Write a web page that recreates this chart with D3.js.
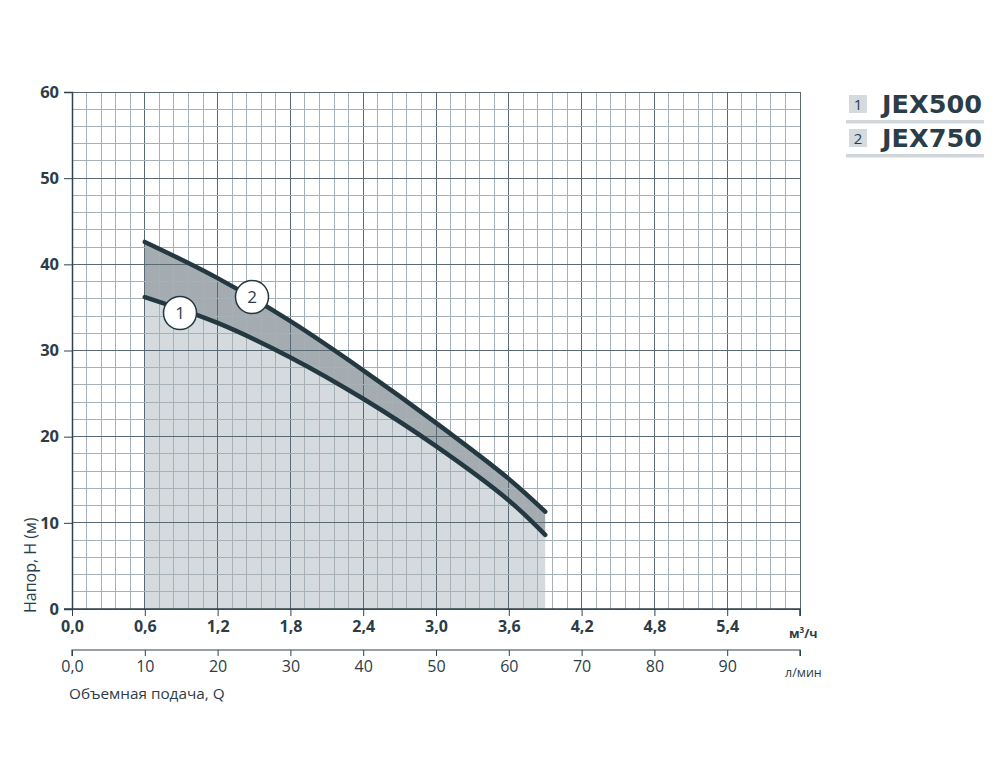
<!DOCTYPE html>
<html><head><meta charset="utf-8">
<script src="https://cdn.jsdelivr.net/npm/d3@7"></script>
<style>body{margin:0;background:#fff;} svg{display:block;font-family:"Open Sans","Noto Sans",sans-serif;}</style>
</head><body>
<svg id="c" width="1000" height="782"></svg>
<script>
// flow in l/min
const flowLpm = [10, 20, 30, 40, 50, 60, 65];
const headJEX500 = [36.2, 33.2, 29.2, 24.4, 18.9, 12.6, 8.6];
const headJEX750 = [42.6, 38.4, 33.4, 27.7, 21.6, 15.1, 11.3];
const seriesNames = ["JEX500", "JEX750"];
const m3hTicks = [0, 0.6, 1.2, 1.8, 2.4, 3.0, 3.6, 4.2, 4.8, 5.4];
const lpmTicks = [0, 10, 20, 30, 40, 50, 60, 70, 80, 90];
const headTicks = [0, 10, 20, 30, 40, 50, 60];

(function () {
const svg = d3.select("#c");
const ink = "#2b3d47";
const pL = 72, pR = 800, pT = 92, pB = 609;
const x = d3.scaleLinear().domain([0, 100]).range([pL, pR]);      // l/min
const xm = d3.scaleLinear().domain([0, 6]).range([pL, pR]);       // m3/h
const y = d3.scaleLinear().domain([0, 60]).range([pB, pT]);

const d1 = flowLpm.map((q, i) => ({q, h: headJEX500[i]}));
const d2 = flowLpm.map((q, i) => ({q, h: headJEX750[i]}));
const curve = d3.curveCatmullRom.alpha(0.5);

// fills
svg.append("path").attr("fill", "#d4dadd")
  .attr("d", d3.area().x(d => x(d.q)).y0(y(0)).y1(d => y(d.h)).curve(curve)(d1));
const band = flowLpm.map((q, i) => ({q, lo: headJEX500[i], hi: headJEX750[i]}));
svg.append("path").attr("fill", "#a4abb1")
  .attr("d", d3.area().x(d => x(d.q)).y0(d => y(d.lo)).y1(d => y(d.hi)).curve(curve)(band));

// grid
const g = svg.append("g");
d3.range(0, 100.001, 2).forEach(v => {
  const major = Math.abs(v % 10) < 1e-6;
  g.append("line").attr("x1", x(v)).attr("x2", x(v)).attr("y1", pT).attr("y2", pB)
    .attr("stroke", major ? "#5a6a74" : "#a6b0b7").attr("stroke-width", 1).attr("shape-rendering", "crispEdges");
});
d3.range(0, 60.001, 2).forEach(v => {
  const major = Math.abs(v % 10) < 1e-6;
  g.append("line").attr("x1", pL).attr("x2", pR).attr("y1", y(v)).attr("y2", y(v))
    .attr("stroke", major ? "#5a6a74" : "#a6b0b7").attr("stroke-width", 1).attr("shape-rendering", "crispEdges");
});

// curves
const line = d3.line().x(d => x(d.q)).y(d => y(d.h)).curve(curve);
[d1, d2].forEach(d => {
  svg.append("path").attr("d", line(d)).attr("fill", "none").attr("stroke", "#233840")
    .attr("stroke-width", 4.5).attr("stroke-linecap", "round");
});

// curve labels
[[180, 313, "1"], [252, 297, "2"]].forEach(([cx, cy, t]) => {
  svg.append("circle").attr("cx", cx).attr("cy", cy).attr("r", 16.5)
    .attr("fill", "#fff").attr("stroke", "#233840").attr("stroke-width", 1.5);
  svg.append("text").attr("x", cx).attr("y", cy + 6).attr("text-anchor", "middle")
    .attr("font-size", 17).attr("fill", ink).text(t);
});

// left axis
const ya = svg.append("g").attr("transform", `translate(${pL},0)`)
  .call(d3.axisLeft(y).tickValues(headTicks).tickSize(8).tickPadding(5).tickFormat(d3.format("d")));
ya.select(".domain").attr("stroke", "#2f434c").attr("stroke-width", 1.5);
ya.selectAll(".tick line").attr("stroke", "#2f434c");
ya.selectAll("text").attr("font-size", 16.5).attr("font-weight", "bold").attr("fill", ink)
  .attr("font-family", "'Open Sans',sans-serif");

// bottom axis m3/h
const fmt = d => d3.format(".1f")(d).replace(".", ",");
const xa = svg.append("g").attr("transform", `translate(0,${pB})`)
  .call(d3.axisBottom(xm).tickValues(m3hTicks.concat([6])).tickSize(7).tickPadding(5)
    .tickFormat(d => d === 6 ? "" : fmt(d)));
xa.select(".domain").attr("stroke", "#2f434c").attr("stroke-width", 1.5).attr("d", `M${pL - 8},0H${pR}V7`);
xa.selectAll(".tick line").attr("stroke", "#2f434c");
xa.selectAll("text").attr("font-size", 16).attr("font-weight", "bold").attr("fill", ink)
  .attr("font-family", "'Open Sans',sans-serif");

// second axis l/min
const xb = svg.append("g").attr("transform", `translate(0,650)`)
  .call(d3.axisBottom(x).tickValues(lpmTicks.concat([100])).tickSize(6).tickPadding(5)
    .tickFormat(d => d === 100 ? "" : (d === 0 ? "0,0" : d)));
xb.select(".domain").attr("stroke", "#2f434c").attr("stroke-width", 1.2).attr("d", `M${pL},6V0H${pR}V6`);
xb.selectAll(".tick line").attr("stroke", "#2f434c");
xb.selectAll("text").attr("font-size", 16).attr("fill", ink).attr("font-family", "'Open Sans',sans-serif");

// unit labels
const u = svg.append("text").attr("x", 789).attr("y", 638).attr("font-size", 12.5).attr("font-weight", "bold").attr("fill", ink);
u.append("tspan").text("м");
u.append("tspan").attr("font-size", 8).attr("dy", -5).text("3");
u.append("tspan").attr("dy", 5).text("/ч");
svg.append("text").attr("x", 785).attr("y", 677).attr("font-size", 12.5).attr("fill", ink).text("л/мин");
svg.append("text").attr("x", 69).attr("y", 699).attr("font-size", 15.3).attr("fill", ink).text("Объемная подача, Q");
svg.append("text").attr("transform", "translate(36,613) rotate(-90)").attr("font-size", 16)
  .attr("fill", ink).text("Напор, H (м)");

// legend
seriesNames.forEach((n, i) => {
  const oy = 94 + i * 34;
  svg.append("rect").attr("x", 849).attr("y", oy + 1).attr("width", 18).attr("height", 18).attr("fill", "#d4dadd");
  svg.append("text").attr("x", 858).attr("y", oy + 16).attr("text-anchor", "middle").attr("font-size", 15)
    .attr("fill", ink).text(i + 1);
  svg.append("text").attr("x", 882).attr("y", oy + 19).attr("font-size", 24).attr("font-weight", "bold")
    .attr("font-family", "'DejaVu Sans',sans-serif").attr("textLength", 100).attr("lengthAdjust", "spacingAndGlyphs")
    .attr("fill", ink).text(n);
  svg.append("rect").attr("x", 846).attr("y", oy + 26).attr("width", 138).attr("height", 3.5).attr("fill", "#d0d6da");
});
})();
</script>
</body></html>
